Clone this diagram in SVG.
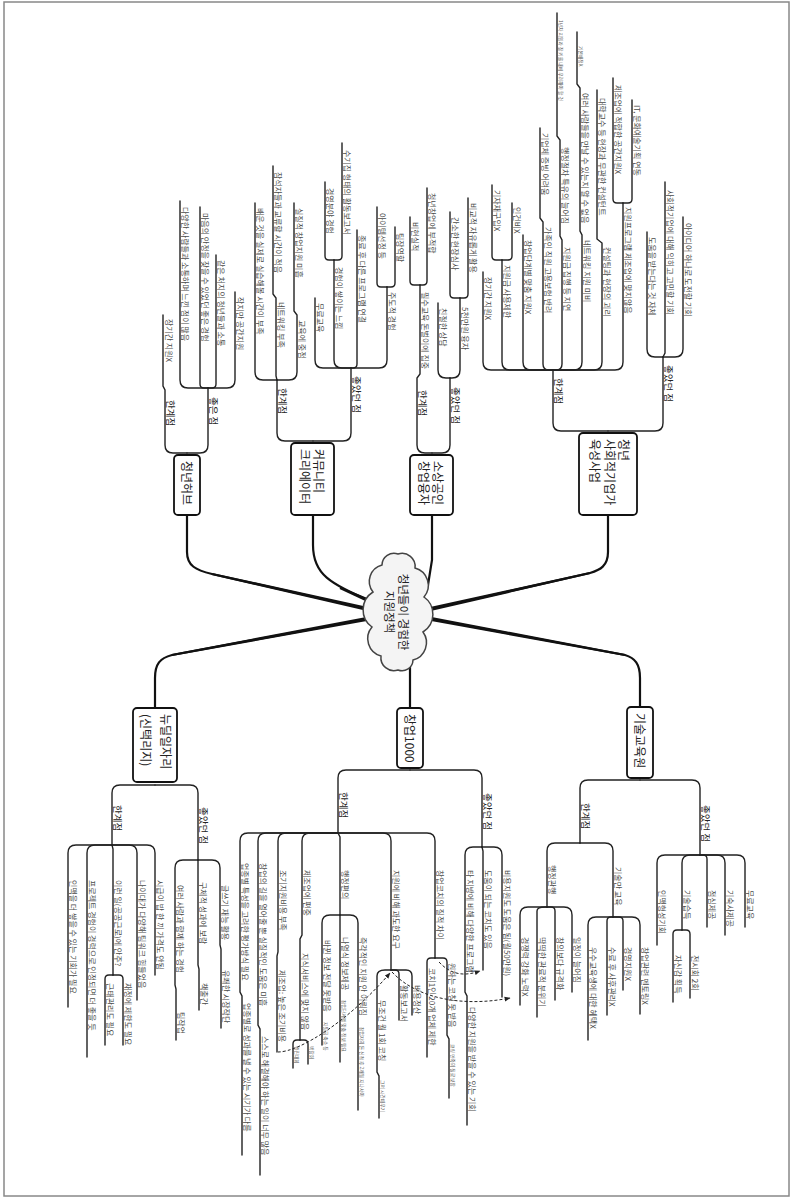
<svg xmlns="http://www.w3.org/2000/svg" width="793" height="1199" viewBox="0 0 793 1199">
<style>
.t{font-family:"Noto Sans CJK KR","Noto Sans",sans-serif;font-size:8px;fill:#4a4a4a}
.b{font-size:9.5px;fill:#222}
.n{font-size:12px;fill:#222}
.s{font-size:4.8px;fill:#555}
.p{fill:none;stroke:#222;stroke-width:1.4;stroke-linecap:round}
.m{fill:none;stroke:#111;stroke-width:2.2;stroke-linecap:round}
.w{fill:#111;stroke:none}
.d{fill:none;stroke:#222;stroke-width:1;stroke-dasharray:3 2}
.box{fill:#fff;stroke:#111;stroke-width:1.8}
</style>
<defs>
<marker id="ah" viewBox="0 0 10 10" refX="9" refY="5" markerWidth="6" markerHeight="6" orient="auto"><path d="M0,1 L10,5 L0,9 z" fill="#222"/></marker>
</defs>
<rect x="4" y="2" width="785" height="1194" fill="#fff" stroke="#888" stroke-width="1.5"/>

<g id="connectors">
<path class="m" d="M187,515 V552 C187,566 196,570 212,574 L372,610"/>
<polygon class="w" points="211.76,575.07 371.56,611.95 372.44,608.05 212.24,572.93"/>
<path class="m" d="M313,515 V545 C313,575 330,583 372,602"/>
<polygon class="w" points="339.56,589 371.2,603.83 372.8,600.17 340.44,587"/>
<path class="m" d="M432,515 V560 L428,585"/>
<path class="m" d="M608,515 V552 C608,566 600,570 590,573 L426,610"/>
<polygon class="w" points="590.24,574.07 426.44,611.95 425.56,608.05 589.76,571.93"/>
<path class="m" d="M155,708 V678 C155,664 160,658 172,655 L372,618"/>
<polygon class="w" points="172.2,656.08 372.36,619.97 371.64,616.03 171.8,653.92"/>
<path class="m" d="M410,708 V660"/>
<path class="m" d="M640,707 V678 C640,664 635,658 625,655 L426,618"/>
<polygon class="w" points="624.8,656.08 425.63,619.97 426.37,616.03 625.2,653.92"/>

<path class="p" d="M187,453 H173 Q165,453 165,445 V390 L163,386 V315"/>
<path class="p" d="M187,453 H200 Q208,453 208,445 V388"/>
<path class="p" d="M208,388 H188 Q180,388 180,380 V201"/>
<path class="p" d="M208,388 H204 Q200,388 200,384 V207"/>
<path class="p" d="M208,388 H212 Q216,388 216,384 V255"/>
<path class="p" d="M208,388 H227 Q235,388 235,380 V292"/>

<path class="p" d="M313,441 H285 Q277,441 277,433 V380"/>
<path class="p" d="M313,441 H343 Q351,441 351,433 V368"/>
<path class="p" d="M277,380 H263 Q255,380 255,372 V203"/>
<path class="p" d="M277,380 L276,376 V298 L273,294 V166"/>
<path class="p" d="M277,380 H289 Q297,380 297,372 V315 L294,311 V203"/>
<path class="p" d="M351,368 H323 Q315,368 315,360 V298"/>
<path class="p" d="M351,368 H342 Q334,368 334,360 V260"/>
<path class="p" d="M334,260 H329 Q325,260 325,256 V182"/>
<path class="p" d="M334,260 H338 Q342,260 342,256 V143"/>
<path class="p" d="M351,368 H353 Q357,368 357,364 V230"/>
<path class="p" d="M351,368 H379 Q387,368 387,360 V287"/>
<path class="p" d="M387,287 H381 Q377,287 377,283 V207"/>
<path class="p" d="M387,287 H391 Q395,287 395,283 V227"/>

<path class="p" d="M432,453 H425 Q417,453 417,445 V378 L420,374 V285"/>
<path class="p" d="M432,453 H442 Q450,453 450,445 V378"/>
<path class="p" d="M420,285 H414 Q410,285 410,281 V217"/>
<path class="p" d="M420,285 H423 Q427,285 427,281 V188"/>
<path class="p" d="M450,378 H446 Q438,378 438,370 V303"/>
<path class="p" d="M450,378 H452 Q460,378 460,370 V298"/>
<path class="p" d="M460,298 H454 Q450,298 450,294 V212"/>
<path class="p" d="M460,298 H464 Q468,298 468,294 V198"/>

<path class="p" d="M608,431 H561 Q553,431 553,423 V370"/>
<path class="p" d="M608,431 H655 Q663,431 663,423 V357"/>
<path class="p" d="M553,370 H491 Q483,370 483,362 V272"/>
<path class="p" d="M553,370 H510 Q502,370 502,362 V260"/>
<path class="p" d="M502,260 H496 Q492,260 492,256 V185"/>
<path class="p" d="M502,260 H508 Q512,260 512,256 V203"/>
<path class="p" d="M553,370 H531 Q523,370 523,362 V235"/>
<path class="p" d="M553,370 H549 Q543,370 543,364 V222 L540,218 V128"/>
<path class="p" d="M553,370 H556 Q562,370 562,364 V240 L560,236 V140 L557,136 V13"/>
<path class="p" d="M553,370 H574 Q582,370 582,362 V235 L580,231 V88 L577,84 V32"/>
<path class="p" d="M553,370 H594 Q602,370 602,362 V243 L597,239 V90"/>
<path class="p" d="M553,370 H615 Q623,370 623,362 V203"/>
<path class="p" d="M623,203 H617 Q613,203 613,199 V78"/>
<path class="p" d="M623,203 H628 Q632,203 632,199 V100"/>
<path class="p" d="M663,357 H655 Q647,357 647,349 V232"/>
<path class="p" d="M663,357 L665,353 V182"/>
<path class="p" d="M663,357 H675 Q683,357 683,349 V217"/>

<path class="p" d="M155,785 H120 Q112,785 112,793 V845"/>
<path class="p" d="M155,785 H190 Q198,785 198,793 V860"/>
<path class="p" d="M112,845 H76 Q68,845 68,853 V1007"/>
<path class="p" d="M112,845 H95 Q87,845 87,853 V1057"/>
<path class="p" d="M112,845 L113,849 V975"/>
<path class="p" d="M113,975 H109 Q105,975 105,979 V1045"/>
<path class="p" d="M113,975 H119 Q123,975 123,979 V1045"/>
<path class="p" d="M112,845 H129 Q137,845 137,853 V1000"/>
<path class="p" d="M112,845 H147 Q155,845 155,853 V975"/>
<path class="p" d="M198,860 H183 Q175,860 175,868 V985 L176,989 V1040"/>
<path class="p" d="M198,860 V965 L199,969 V1010"/>
<path class="p" d="M198,860 H212 Q220,860 220,868 V945 L221,949 V1028"/>

<path class="p" d="M410,770 H346 Q338,770 338,778 V833"/>
<path class="p" d="M410,770 H474 Q482,770 482,778 V847"/>
<path class="p" d="M338,833 H248 Q240,833 240,841 V992 L242,996 V1155"/>
<path class="p" d="M338,833 H266 Q258,833 258,841 V1025 L260,1029 V1175"/>
<path class="p" d="M338,833 H286 Q278,833 278,841 V952 L277,956 V1052"/>
<path class="p" d="M338,833 H310 Q302,833 302,841 V935 L300,939 V1040"/>
<path class="p" d="M300,1040 H297 Q293,1040 293,1044 V1068"/>
<path class="p" d="M300,1040 H304 Q308,1040 308,1044 V1064"/>
<path class="p" d="M338,833 L340,837 V915"/>
<path class="p" d="M340,915 H330 Q322,915 322,923 V1045"/>
<path class="p" d="M340,915 V1062"/>
<path class="p" d="M340,915 H350 Q358,915 358,923 V1110"/>
<path class="p" d="M338,833 H383 Q391,833 391,841 V970"/>
<path class="p" d="M391,970 H385 Q377,970 377,976 V1072 L379,1076 V1118"/>
<path class="p" d="M391,970 H395 Q399,970 399,974 V1020"/>
<path class="p" d="M391,970 H406 Q412,970 412,976 V1015"/>
<path class="p" d="M338,833 H427 Q435,833 435,841 V958"/>
<path class="p" d="M435,958 H431 Q427,958 427,962 V1057"/>
<path class="p" d="M435,958 H443 Q447,958 447,962 V1035 L449,1039 V1098"/>
<path class="p" d="M482,847 H473 Q465,847 465,855 V992 L467,996 V1125"/>
<path class="p" d="M482,847 L483,851 V970"/>
<path class="p" d="M482,847 H494 Q502,847 502,855 V997"/>

<path class="p" d="M640,780 H588 Q580,780 580,788 V843"/>
<path class="p" d="M640,780 H692 Q700,780 700,788 V855"/>
<path class="p" d="M580,843 H555 Q547,843 547,851 V907"/>
<path class="p" d="M547,907 H528 Q520,907 520,915 V1005"/>
<path class="p" d="M547,907 H545 Q537,907 537,911 V1017"/>
<path class="p" d="M547,907 H551 Q555,907 555,911 V1000"/>
<path class="p" d="M547,907 H564 Q572,907 572,915 V992"/>
<path class="p" d="M580,843 H605 Q613,843 613,851 V917"/>
<path class="p" d="M613,917 H596 Q588,917 588,925 V1040"/>
<path class="p" d="M613,917 H611 Q607,917 607,921 V1015"/>
<path class="p" d="M613,917 H619 Q623,917 623,921 V990"/>
<path class="p" d="M613,917 H632 Q640,917 640,925 V1014"/>
<path class="p" d="M700,855 H665 Q657,855 657,863 V945"/>
<path class="p" d="M700,855 H690 Q682,855 682,863 V930"/>
<path class="p" d="M682,930 H677 Q673,930 673,934 V1002"/>
<path class="p" d="M682,930 H686 Q690,930 690,934 V998"/>
<path class="p" d="M700,855 H703 Q707,855 707,859 V927"/>
<path class="p" d="M700,855 H717 Q725,855 725,863 V935"/>
<path class="p" d="M700,855 H737 Q745,855 745,863 V927"/>

<path class="d" d="M439,962 C452,976 466,976 480,971" marker-end="url(#ah)"/>
<path class="d" d="M392,972 C420,1002 470,1006 510,998" marker-end="url(#ah)"/>
<path class="d" d="M278,1052 C300,1052 350,1020 390,973" marker-end="url(#ah)"/>
</g>

<g id="root">
<path d="M398,554 A13,13 0 0 1 415,568 A18,18 0 0 1 424,597 A21,21 0 0 1 423,632 A18,18 0 0 1 413,660 A11,11 0 0 1 398,670 A13,13 0 0 1 381,656 A18,18 0 0 1 372,627 A21,21 0 0 1 373,592 A17,17 0 0 1 382,565 A12,12 0 0 1 398,554 Z" fill="#f4f4f4" stroke="#444" stroke-width="1.5"/>
<text class="t n" style="font-size:11.5px" text-anchor="middle" transform="translate(399.4 612) rotate(90)">청년들이 경험한</text>
<text class="t n" style="font-size:11.5px" text-anchor="middle" transform="translate(385.4 612) rotate(90)">지원정책</text>
</g>

<g id="node-hub"><rect class="box" x="174" y="455" width="26" height="60" rx="4"/><text class="t n" transform="translate(182.2 461) rotate(90)">청년허브</text></g>
<g id="node-cc"><rect class="box" x="291" y="443" width="43" height="72" rx="4"/><text class="t n" transform="translate(314.2 449) rotate(90)">커뮤니티</text><text class="t n" transform="translate(300.2 449) rotate(90)">크리에이터</text></g>
<g id="node-ss"><rect class="box" x="410" y="455" width="43" height="60" rx="4"/><text class="t n" transform="translate(433.2 461) rotate(90)">소상공인</text><text class="t n" transform="translate(419.2 461) rotate(90)">창업융자</text></g>
<g id="node-se"><rect class="box" x="579" y="433" width="58" height="82" rx="4"/><text class="t n" transform="translate(619.2 439) rotate(90)">청년</text><text class="t n" transform="translate(605.2 439) rotate(90)">사회적기업가</text><text class="t n" transform="translate(590.2 439) rotate(90)">육성사업</text></g>
<g id="node-nd"><rect class="box" x="133" y="708" width="44" height="74" rx="4"/><text class="t n" transform="translate(161.2 714) rotate(90)">뉴딜일자리</text><text class="t n" transform="translate(141.2 714) rotate(90)">(신택리지)</text></g>
<g id="node-cu"><rect class="box" x="397" y="708" width="26" height="60" rx="4"/><text class="t n" transform="translate(405.2 714) rotate(90)">창업1000</text></g>
<g id="node-gi"><rect class="box" x="627" y="707" width="26" height="71" rx="4"/><text class="t n" transform="translate(635.2 713) rotate(90)">기술교육원</text></g>

<g id="labels-hub">
<text class="t b" transform="translate(167 400) rotate(90)">한계점</text>
<text class="t b" transform="translate(210 397) rotate(90)">좋은 점</text>
<text class="t" transform="translate(165.5 319) rotate(90)">장기간 지원X</text>
<text class="t" transform="translate(182 207) rotate(90)">다양한 사람들과 소통하며 느낀 점이 많음</text>
<text class="t" transform="translate(202 213) rotate(90)">마음의 안정을 찾을 수 있었던 좋은 경험</text>
<text class="t" transform="translate(218 260) rotate(90)">같은 처지의 청년들과 소통</text>
<text class="t" transform="translate(237 297) rotate(90)">작지만 공간지원</text>
</g>

<g id="labels-cc">
<text class="t b" transform="translate(279 388) rotate(90)">한계점</text>
<text class="t b" transform="translate(353 376) rotate(90)">좋았던 점</text>
<text class="t" transform="translate(257 208) rotate(90)">배운 것을 실제로 실습해볼 시간이 부족</text>
<text class="t" transform="translate(278 302) rotate(90)">네트워킹 부족</text>
<text class="t" transform="translate(275 172) rotate(90)">참석자들과 교류할 시간이 적음</text>
<text class="t" transform="translate(299 320) rotate(90)">교육에 중점</text>
<text class="t" transform="translate(296 208) rotate(90)">실질적 창업지원 미흡</text>
<text class="t" transform="translate(317 303) rotate(90)">무료교육</text>
<text class="t" transform="translate(336 267) rotate(90)">경험이 쌓이는 느낌</text>
<text class="t" transform="translate(327 188) rotate(90)">경영분야 경험</text>
<text class="t" transform="translate(344 150) rotate(90)">수기집 형태의 활동보고서</text>
<text class="t" transform="translate(359 235) rotate(90)">종료 후 다른 프로그램 연결</text>
<text class="t" transform="translate(389 292) rotate(90)">주도적 경험</text>
<text class="t" transform="translate(379 213) rotate(90)">아이템선정 등</text>
<text class="t" transform="translate(397 233) rotate(90)">팀장역할</text>
</g>

<g id="labels-ss">
<text class="t b" transform="translate(419 390) rotate(90)">한계점</text>
<text class="t b" transform="translate(452 387) rotate(90)">좋았던 점</text>
<text class="t" transform="translate(422 292) rotate(90)">필수교육 돈벌이에 집중</text>
<text class="t" transform="translate(412 222) rotate(90)">비현실적</text>
<text class="t" transform="translate(429 193) rotate(90)">청년창업에 부적합</text>
<text class="t" transform="translate(440 308) rotate(90)">친절한 상담</text>
<text class="t" transform="translate(462 307) rotate(90)">5천만원 융자</text>
<text class="t" transform="translate(452 217) rotate(90)">간소한 현장심사</text>
<text class="t" transform="translate(470 203) rotate(90)">비교적 자유롭게 활용</text>
</g>

<g id="labels-se">
<text class="t b" transform="translate(555 378) rotate(90)">한계점</text>
<text class="t b" transform="translate(665 365) rotate(90)">좋았던 점</text>
<text class="t" transform="translate(485 277) rotate(90)">장기간 지원X</text>
<text class="t" transform="translate(504 265) rotate(90)">지원금 사용제한</text>
<text class="t" transform="translate(494 190) rotate(90)">기자재구입X</text>
<text class="t" transform="translate(514 207) rotate(90)">인건비X</text>
<text class="t" transform="translate(525 240) rotate(90)">창업단계별 맞춤 지원X</text>
<text class="t" transform="translate(545 227) rotate(90)">가족인 직원 고용보험 반려</text>
<text class="t" transform="translate(542 133) rotate(90)">기업체 증빙 어려움</text>
<text class="t" transform="translate(564 247) rotate(90)">지원금 집행 등 지연</text>
<text class="t" transform="translate(562 147) rotate(90)">행정절차 특유의 늘어짐</text>
<text class="t s" transform="translate(559 20) rotate(90)">1년차 지원과 잘 키울 내에 우려해야 할 것</text>
<text class="t" transform="translate(584 240) rotate(90)">네트워킹 지원 미비</text>
<text class="t" transform="translate(582 93) rotate(90)">여러 사람들을 만날 수 있는지 알 수 없음</text>
<text class="t s" transform="translate(579 46) rotate(90)">기본배정X</text>
<text class="t" transform="translate(604 247) rotate(90)">컨설팅과 현장의 괴리</text>
<text class="t" transform="translate(599 98) rotate(90)">대학교수 등 현장과 무관한 컨설턴트</text>
<text class="t" transform="translate(625 207) rotate(90)">지원프로그램 제조업에 맞지않음</text>
<text class="t" transform="translate(615 85) rotate(90)">제조업에 적합한 공간지원X</text>
<text class="t" transform="translate(634 105) rotate(90)">IT, 문화예술기획 연동</text>
<text class="t" transform="translate(649 237) rotate(90)">도움을 받는다는 것 자체</text>
<text class="t" transform="translate(667 190) rotate(90)">사회적기업에 대해 익히고 고민할 기회</text>
<text class="t" transform="translate(685 223) rotate(90)">아이디어 하나로 도전할 기회</text>
</g>

<g id="labels-nd">
<text class="t b" transform="translate(114 805) rotate(90)">한계점</text>
<text class="t b" transform="translate(200 807) rotate(90)">좋았던 점</text>
<text class="t" transform="translate(70 880) rotate(90)">인맥을 더 쌓을 수 있는 기회가 필요</text>
<text class="t" transform="translate(89 880) rotate(90)">프로젝트 경험이 경력으로 인정되면 더 좋을 듯</text>
<text class="t" transform="translate(115 880) rotate(90)">이런 일(공공근로)에 안주?</text>
<text class="t" transform="translate(107 983) rotate(90)">근태관리도 필요</text>
<text class="t" transform="translate(125 983) rotate(90)">재정에 제한도 필요</text>
<text class="t" transform="translate(139 880) rotate(90)">나이대가 다양해 팀워크 힘들었음</text>
<text class="t" transform="translate(157 880) rotate(90)">시급이 밥 한 끼 가격도 안됨</text>
<text class="t" transform="translate(177 885) rotate(90)">여러 사람과 함께 하는 경험</text>
<text class="t" transform="translate(178 1012) rotate(90)">팀작업</text>
<text class="t" transform="translate(200 882) rotate(90)">구체적 성과에 보람</text>
<text class="t" transform="translate(201 983) rotate(90)">책출간</text>
<text class="t" transform="translate(222 885) rotate(90)">글쓰기 재능 활용</text>
<text class="t" transform="translate(223 970) rotate(90)">유쾌한 시장작단</text>
</g>

<g id="labels-cu">
<text class="t b" transform="translate(340 792) rotate(90)">한계점</text>
<text class="t b" transform="translate(484 793) rotate(90)">좋았던 점</text>
<text class="t" transform="translate(242 863) rotate(90)">업종별 특성을 고려한 평가방식 필요</text>
<text class="t" transform="translate(244 1003) rotate(90)">업종별로 성과를 낼 수 있는 시기가 다름</text>
<text class="t" transform="translate(260 863) rotate(90)">창업의 길을 열어줄 뿐 실질적인 도움은 미흡</text>
<text class="t" transform="translate(262 1036) rotate(90)">스스로 해결해야 하는 일이 너무 많음</text>
<text class="t" transform="translate(280 870) rotate(90)">조기지원비용 부족</text>
<text class="t" transform="translate(279 970) rotate(90)">제조업: 높은 조기비용</text>
<text class="t" transform="translate(304 870) rotate(90)">제조업에 편중</text>
<text class="t" transform="translate(302 953) rotate(90)">지식서비스에 맞지 않음</text>
<text class="t s" transform="translate(295 1046) rotate(90)">경진대회</text>
<text class="t s" transform="translate(310 1046) rotate(90)">박람회</text>
<text class="t" transform="translate(342 870) rotate(90)">행정편의</text>
<text class="t" transform="translate(324 940) rotate(90)">바뀐 정보 전달 못받음</text>
<text class="t s" transform="translate(324 1022) rotate(90)">지원금 축소 등</text>
<text class="t" transform="translate(342 937) rotate(90)">나열식 정보제공</text>
<text class="t s" transform="translate(342 1000) rotate(90)">창업단계별 맞춤 정보 필요</text>
<text class="t" transform="translate(360 937) rotate(90)">즉각적인 지원 안 이뤄짐</text>
<text class="t s" transform="translate(360 1027) rotate(90)">창업자의 돈 신청 후 2개월 지나서야</text>
<text class="t" transform="translate(393 870) rotate(90)">지원에 비해 과도한 요구</text>
<text class="t" transform="translate(379 1000) rotate(90)">무조건 월 1회 코칭</text>
<text class="t s" transform="translate(381 1080) rotate(90)">그저 시간때우기</text>
<text class="t" transform="translate(401 985) rotate(90)">활동보고서</text>
<text class="t" transform="translate(414 985) rotate(90)">비용정산</text>
<text class="t" transform="translate(437 870) rotate(90)">창업코치의 질적 차이</text>
<text class="t" transform="translate(429 968) rotate(90)">코치1인 20개 업체 제한</text>
<text class="t" transform="translate(449 963) rotate(90)">원하는 코칭 못 받음</text>
<text class="t s" transform="translate(451 1044) rotate(90)">코칭 만족의 질로 보장</text>
<text class="t" transform="translate(467 870) rotate(90)">타 지방에 비해 다양한 프로그램</text>
<text class="t" transform="translate(469 1007) rotate(90)">다양한 지원을 받을 수 있는 기회</text>
<text class="t" transform="translate(485 870) rotate(90)">도움이 되는 코치도 있음</text>
<text class="t" transform="translate(504 870) rotate(90)">비용지원도 도움은 됨(월50만원)</text>
</g>

<g id="labels-gi">
<text class="t b" transform="translate(582 803) rotate(90)">한계점</text>
<text class="t b" transform="translate(702 805) rotate(90)">좋았던 점</text>
<text class="t" transform="translate(549 865) rotate(90)">행정관행</text>
<text class="t" transform="translate(522 937) rotate(90)">경쟁력 강화 노력X</text>
<text class="t" transform="translate(539 937) rotate(90)">딱딱한 관료적 분위기</text>
<text class="t" transform="translate(557 937) rotate(90)">창의보다 규격화</text>
<text class="t" transform="translate(574 937) rotate(90)">일정이 늘어짐</text>
<text class="t" transform="translate(615 867) rotate(90)">기술만 교육</text>
<text class="t" transform="translate(590 947) rotate(90)">우수교육생에 대한 혜택X</text>
<text class="t" transform="translate(609 947) rotate(90)">수료 후 사후관리X</text>
<text class="t" transform="translate(625 947) rotate(90)">경영지원X</text>
<text class="t" transform="translate(642 947) rotate(90)">창업관련 멘토링X</text>
<text class="t" transform="translate(659 890) rotate(90)">인맥형성기회</text>
<text class="t" transform="translate(684 890) rotate(90)">기술습득</text>
<text class="t" transform="translate(675 955) rotate(90)">자신감 획득</text>
<text class="t" transform="translate(692 955) rotate(90)">전시회 2회</text>
<text class="t" transform="translate(709 890) rotate(90)">점심제공</text>
<text class="t" transform="translate(727 890) rotate(90)">기숙사제공</text>
<text class="t" transform="translate(747 890) rotate(90)">무료교육</text>
</g>
</svg>
